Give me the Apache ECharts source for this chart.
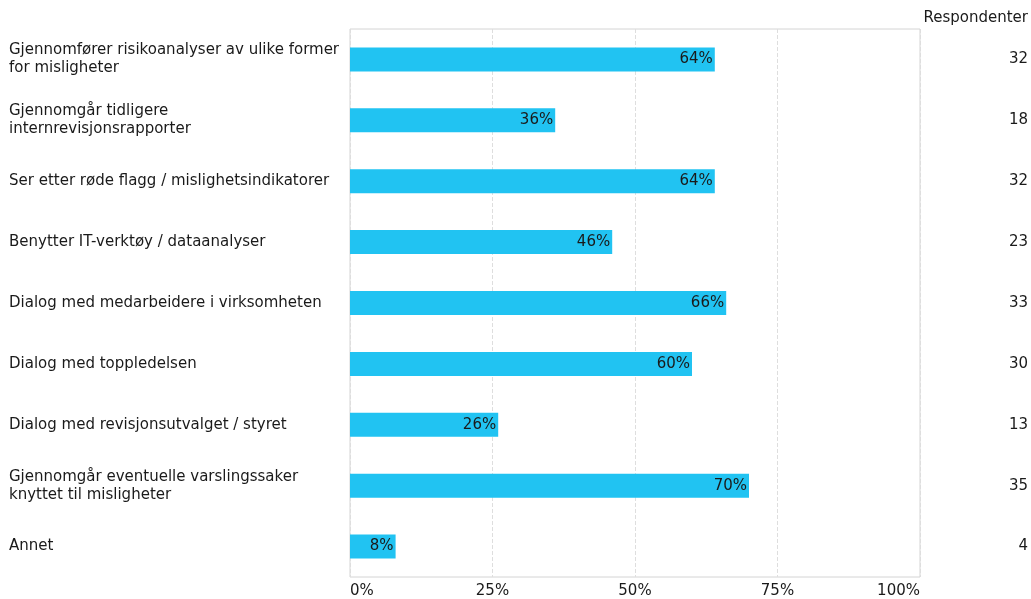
<!DOCTYPE html>
<html>
<head>
<meta charset="utf-8">
<script src="https://cdn.jsdelivr.net/npm/echarts@6/dist/echarts.min.js"></script>
<style>
html, body { margin: 0; padding: 0; background: #fff; }
#chart { width: 1031px; height: 599px; }
</style>
</head>
<body>
<div id="chart"></div>
<script>
// Survey answers, top to bottom
const categories = [
  'Gjennomfører risikoanalyser av ulike former\nfor misligheter',
  'Gjennomgår tidligere\ninternrevisjonsrapporter',
  'Ser etter røde flagg / mislighetsindikatorer',
  'Benytter IT-verktøy / dataanalyser',
  'Dialog med medarbeidere i virksomheten',
  'Dialog med toppledelsen',
  'Dialog med revisjonsutvalget / styret',
  'Gjennomgår eventuelle varslingssaker\nknyttet til misligheter',
  'Annet'
];
const percentValues = [64, 36, 64, 46, 66, 60, 26, 70, 8];
const respondents = [32, 18, 32, 23, 33, 30, 13, 35, 4];
const xTicks = [0, 25, 50, 75, 100];

const FONT = '"DejaVu Sans", Verdana, sans-serif';
const FS = 15;
const TEXT = '#1a1a1a';
const chart = echarts.init(document.getElementById('chart'), null, { renderer: 'canvas' });

chart.setOption({
  animation: false,
  backgroundColor: '#ffffff',
  textStyle: { fontFamily: FONT },
  title: {
    text: 'Respondenter',
    right: 3,
    top: 11,
    padding: 0,
    textStyle: { fontFamily: FONT, fontSize: FS, fontWeight: 'normal', color: TEXT }
  },
  grid: {
    left: 350, right: 110, top: 29, bottom: 21,
    show: true, borderColor: '#d4d4d4', borderWidth: 1
  },
  xAxis: {
    type: 'value',
    min: xTicks[0],
    max: xTicks[xTicks.length - 1],
    interval: 25,
    axisLine: { show: false },
    axisTick: { show: false },
    splitLine: { show: true, lineStyle: { color: '#dedede', type: 'dashed' } },
    axisLabel: {
      formatter: v => v + '%',
      fontFamily: FONT, fontSize: FS, color: TEXT, margin: 7,
      alignMinLabel: 'left', alignMaxLabel: 'right'
    }
  },
  yAxis: [
    {
      type: 'category',
      data: categories,
      inverse: true,
      axisLine: { show: false },
      axisTick: { show: false },
      axisLabel: {
        align: 'left', margin: 341,
        fontFamily: FONT, fontSize: FS, color: TEXT, lineHeight: 18
      }
    },
    {
      type: 'category',
      data: respondents.map(String),
      inverse: true,
      position: 'right',
      axisLine: { show: false },
      axisTick: { show: false },
      axisLabel: {
        align: 'right', margin: 108,
        fontFamily: FONT, fontSize: FS, color: TEXT
      }
    }
  ],
  series: [{
    type: 'bar',
    data: percentValues,
    yAxisIndex: 0,
    barWidth: 24,
    itemStyle: { color: '#21c3f2' },
    label: {
      show: true,
      position: 'insideRight',
      distance: 2,
      formatter: p => p.value + '%',
      fontFamily: FONT, fontSize: FS, color: TEXT
    }
  }]
});
</script>
</body>
</html>
